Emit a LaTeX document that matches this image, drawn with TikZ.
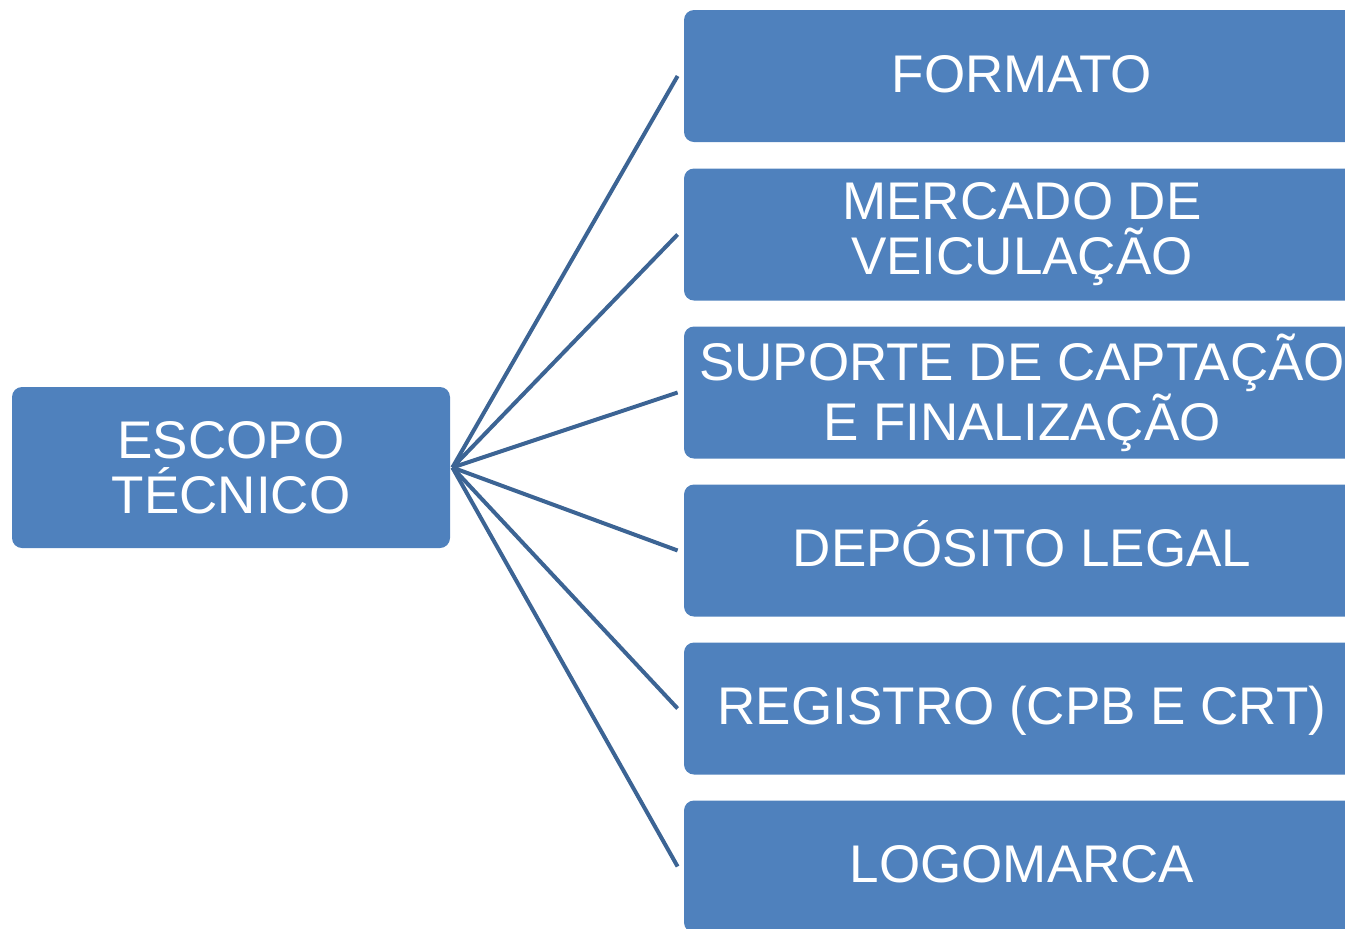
\documentclass[tikz,border=0pt]{standalone}
\usepackage{fontspec}
\setmainfont{Liberation Sans}
\usetikzlibrary{calc}
\definecolor{BoxClr}{RGB}{79,129,189}
\definecolor{LinkClr}{RGB}{60,100,148}

\begin{document}
\begin{tikzpicture}[x=0.5pt,y=-0.5pt,
  box/.style={fill=BoxClr,rounded corners=5pt,text=white,align=center,
    inner sep=0pt,font=\fontsize{26.5}{27.5}\selectfont},
  item/.style={box,minimum width=338pt,minimum height=66pt},
  oneline/.style={text height=16pt,text depth=0pt},
  link/.style={color=LinkClr,line width=2pt}]
\useasboundingbox (0,0) rectangle (1345,928);

\node[box,minimum width=219pt,minimum height=80.5pt] (esc) at (231,467.5) {ESCOPO\\TÉCNICO};

\node[item,oneline] (fmt) at (1022,76) {FORMATO};
\node[item] (mer) at (1022,234.5) {MERCADO DE\\VEICULAÇÃO};
\node[item] (sup) at (1022,392.5) {SUPORTE DE CAPTAÇÃO\\E FINALIZAÇÃO};
\node[item,oneline] (dep) at (1022,550.5) {DEPÓSITO LEGAL};
\node[item,oneline] (reg) at (1022,708.5) {REGISTRO (CPB E CRT)};
\node[item,oneline] (log) at (1022,866.5) {LOGOMARCA};

\foreach \b in {fmt,mer,sup,dep,reg,log}
  \draw[link] ([xshift=1pt]esc.east) -- ([xshift=-3pt]\b.west);

\end{tikzpicture}
\end{document}
